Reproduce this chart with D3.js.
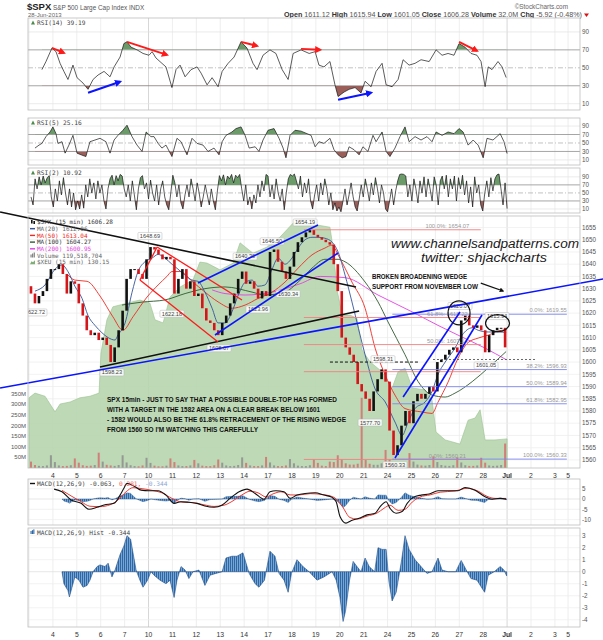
<!DOCTYPE html>
<html>
<head>
<meta charset="utf-8">
<style>
  body { margin: 0; background: #fff; }
  svg text { font-family: "Liberation Sans", Arial, sans-serif; }
  svg .mono { font-family: "DejaVu Sans Mono", "Liberation Mono", monospace; }
</style>
</head>
<body>
<script src="https://d3js.org/d3.v7.min.js"></script>
<svg width="603" height="640"></svg>
<script>
// ---------- data (time = trading days since Jun 3 open) ----------
var dayLabels = ["3","4","5","6","7","10","11","12","13","14","17","18","19","20","21","24","25","26","27","28","Jul","2","3","5"];
var dayPos = [0,1,2,3,4,5,6,7,8,9,10,11,12,13,14,15,16,17,18,19,20,21,22,22.55];

var priceOpen = 1631;
// six closes per session, Jun 3 .. Jun 28
var priceClose = [
  1628,1624,1627,1629,1634,1638,  1638,1640,1636,1628,1633,1632,
  1624,1619,1613,1611,1612,1609,  1610,1607,1600,1606,1613,1621,
  1634,1638,1638,1636,1634,1642,  1647,1646,1644,1642,1643,1642,
  1628,1634,1638,1630,1633,1627,  1628,1622,1617,1616,1613,1611,
  1616,1619,1624,1628,1634,1637,  1632,1633,1630,1626,1629,1627,
  1645,1646,1641,1637,1634,1639,  1645,1649,1651,1653,1654,1652,
  1651,1650,1649,1648,1640,1629,  1610,1606,1603,1600,1591,1588,
  1585,1580,1588,1593,1597,1592,  1572,1562,1566,1574,1580,1575,
  1584,1587,1585,1587,1590,1588,  1600,1601,1603,1605,1606,1604,
  1617,1619,1615,1614,1615,1613,  1604,1611,1613,1614,1614,1606
];
var volume = [
  30,14,10,9,12,60,  28,12,9,10,13,45,  25,13,10,11,14,72,  30,15,12,10,14,60,
  26,13,9,8,12,48,   24,11,8,8,11,45,   28,12,9,9,12,38,    22,11,9,9,13,40,
  25,12,9,10,14,50,  24,12,9,9,12,52,   26,12,9,9,12,42,    22,11,9,9,13,40,
  24,11,9,30,28,60,  40,22,16,16,20,330, 38,20,15,15,22,85,  40,22,15,14,18,70,
  30,16,12,11,14,55, 28,14,11,10,13,50, 26,13,10,10,12,48,  25,12,10,11,14,115
];
var xeu = [[0,130.95],[0.25,131.04],[0.67,130.98],[1.09,130.68],[1.3,130.83],[1.72,130.87],[2.13,130.95],[2.55,130.98],[2.93,131.04],[3.01,131.81],[3.26,132.45],[3.51,132.70],[4.1,132.77],[4.64,132.83],[5.06,132.77],[5.27,132.45],[5.61,132.39],[5.9,132.89],[6.32,133.08],[6.86,133.22],[7.15,133.56],[7.45,133.54],[7.99,133.41],[8.54,133.54],[8.83,133.93],[9.37,133.73],[9.96,133.85],[10.5,134.04],[11.05,134.31],[11.34,134.33],[12.59,134.23],[12.72,133.83],[12.89,133.02],[13.1,132.54],[13.43,132.54],[13.72,132.48],[13.93,131.87],[14.27,131.64],[14.77,131.45],[15.19,131.14],[15.44,131.45],[15.73,131.52],[16.03,131.14],[16.57,131.10],[16.86,130.91],[17.03,130.29],[17.41,130.14],[18.03,130.06],[18.37,130.52],[18.66,130.56],[18.87,130.72],[19.08,130.14],[19.5,130.14],[20,130.16]];

var ma20 = [[0.25,1629],[0.67,1631.5],[1.09,1638],[1.38,1639.7],[1.63,1637],[1.92,1631],[2.22,1626],[2.47,1619],[2.76,1615],[3.05,1612],[3.31,1610],[3.6,1609],[3.72,1611],[4.02,1616],[4.31,1628.5],[4.56,1637],[4.85,1641],[5.15,1642.5],[5.4,1644],[5.69,1642.5],[5.98,1640],[6.23,1638],[6.53,1635.5],[6.82,1633.5],[7.07,1633],[7.36,1628.6],[7.66,1622],[7.91,1616],[8.2,1616],[8.49,1620.5],[8.74,1627],[9.04,1632.6],[9.33,1633.5],[9.58,1631],[9.87,1631.5],[10.17,1638],[10.42,1642.5],[10.71,1640],[11,1642.5],[11.26,1646.6],[11.55,1650],[11.84,1651],[12.09,1651],[12.38,1650.6],[12.68,1649],[12.93,1645],[13.22,1635.6],[13.51,1624.6],[14.06,1603],[14.48,1589],[14.9,1583.7],[15.31,1575.5],[15.61,1570],[15.86,1575.5],[16.15,1581],[16.57,1583.7],[16.86,1588],[17.11,1595],[17.41,1600],[17.82,1605.7],[18.12,1611],[18.54,1614],[18.79,1613],[19.21,1612.3],[19.62,1612.3],[19.96,1612.1]];
var ma50 = [[1.59,1636],[1.92,1633.5],[2.43,1633],[2.97,1627],[3.51,1618.5],[3.93,1613],[4.35,1618.5],[4.94,1626.6],[5.4,1631.5],[5.77,1635],[5.98,1637],[6.32,1637],[6.82,1633],[7.36,1628.6],[7.91,1624.6],[8.49,1622],[9.04,1623.3],[9.58,1626],[10.17,1628.6],[10.71,1632.7],[11.26,1638.4],[11.84,1643.8],[12.38,1646.6],[12.68,1647.8],[12.93,1643.8],[13.22,1638.4],[13.51,1632.7],[14.06,1622],[14.48,1605.7],[14.9,1594.7],[15.31,1586.5],[15.73,1581],[16.44,1579.6],[16.86,1579],[17.11,1583.6],[17.53,1591.8],[17.95,1601.6],[18.37,1608],[18.79,1609.8],[19.21,1611],[19.79,1613],[19.96,1613]];
var ma100 = [[3.89,1623.3],[4.73,1624.5],[5.69,1625.4],[6.53,1628],[7.36,1630],[8.2,1630.7],[9.33,1628.6],[9.87,1627.4],[10.71,1628.6],[11.26,1632.7],[11.84,1638.4],[12.38,1642],[12.93,1642],[13.22,1641],[14.06,1632.7],[14.6,1624.6],[15.02,1616.4],[15.73,1603],[16.28,1592],[16.86,1586.5],[17.41,1585.7],[17.82,1587.3],[18.54,1592],[19.21,1597.6],[19.96,1604.3]];
var ma200 = [[7.66,1629.5],[8.2,1628],[9.04,1627.4],[10.17,1628.6],[11.34,1632],[12.18,1635],[13.22,1634.5],[14.6,1627.4],[16.03,1620.5],[17.11,1615],[17.95,1611],[19.08,1605.7],[19.96,1601]];

var rsi14 = [[0.54,48],[0.71,57],[0.96,72],[1.13,68],[1.3,55],[1.46,46],[1.63,37],[1.84,53],[2.01,39],[2.26,33],[2.47,26],[2.68,37],[2.89,42],[3.14,46],[3.39,40],[3.56,51],[3.81,62],[3.97,77],[4.1,79],[4.27,73],[4.52,70],[4.77,66],[5.02,64],[5.15,68],[5.31,61],[5.56,55],[5.73,51],[5.98,28],[6.15,48],[6.32,53],[6.53,40],[6.78,48],[7.03,51],[7.2,44],[7.45,31],[7.66,39],[7.91,29],[8.08,46],[8.33,55],[8.58,62],[8.87,79],[9.12,72],[9.37,55],[9.54,48],[9.79,64],[10.08,70],[10.33,66],[10.59,48],[10.84,37],[11.05,66],[11.38,70],[11.72,66],[11.97,68],[12.13,53],[12.34,51],[12.59,57],[12.8,31],[12.93,18],[13.18,23],[13.39,26],[13.64,28],[13.89,22],[14.06,35],[14.31,29],[14.52,46],[14.77,55],[14.94,31],[15.19,29],[15.44,37],[15.65,59],[15.9,53],[16.15,55],[16.4,59],[16.74,57],[17.03,70],[17.28,64],[17.53,66],[17.78,64],[17.99,77],[18.24,73],[18.49,66],[18.74,64],[18.91,57],[19.08,29],[19.21,51],[19.37,48],[19.62,57],[19.79,51],[19.96,39.19]];
var rsi5 = [[0.25,38],[0.42,45],[0.54,49],[0.71,65],[0.88,76],[1,88],[1.13,72],[1.21,49],[1.38,53],[1.51,26],[1.67,45],[1.84,68],[2.01,26],[2.18,22],[2.38,18],[2.55,53],[2.76,57],[2.97,61],[3.22,53],[3.39,26],[3.56,57],[3.72,68],[3.93,80],[4.1,92],[4.31,65],[4.52,45],[4.73,30],[4.9,76],[5.1,65],[5.23,65],[5.4,49],[5.56,38],[5.73,45],[5.98,18],[6.19,61],[6.36,53],[6.61,22],[6.82,61],[7.03,49],[7.28,45],[7.49,30],[7.74,38],[7.95,22],[8.08,53],[8.24,68],[8.49,76],[8.66,84],[8.87,88],[9.04,68],[9.21,38],[9.46,41],[9.62,30],[9.79,57],[10,80],[10.25,84],[10.46,61],[10.63,38],[10.75,15],[10.92,68],[11.13,80],[11.38,78],[11.63,72],[11.8,68],[11.97,41],[12.13,53],[12.34,49],[12.59,61],[12.76,34],[12.93,22],[13.1,15],[13.26,18],[13.39,41],[13.6,34],[13.81,22],[13.97,41],[14.18,30],[14.39,68],[14.52,53],[14.77,76],[14.94,30],[15.1,18],[15.31,38],[15.52,65],[15.73,88],[15.9,53],[16.15,65],[16.4,57],[16.65,65],[16.86,53],[17.03,76],[17.28,68],[17.53,76],[17.78,72],[17.99,84],[18.16,76],[18.37,45],[18.58,57],[18.79,45],[19,15],[19.16,61],[19.41,57],[19.71,72],[19.87,53],[20,25.16]];
// RSI(2): evenly spaced readings across the 20 sessions
var rsi2 = [40,20,85,60,90,70,92,75,88,93,40,15,60,30,80,45,88,50,20,60,15,50,8,30,10,45,12,70,40,85,50,75,35,80,50,70,30,10,60,85,94,70,93,80,96,92,60,40,70,30,80,45,8,60,88,93,60,75,35,82,50,30,70,20,60,80,40,20,8,50,94,75,40,70,25,10,45,70,40,85,60,30,75,50,15,40,70,45,20,60,30,8,55,93,80,95,70,92,85,96,75,94,88,96,60,30,70,20,40,10,45,25,70,40,80,55,96,92,40,70,35,85,50,30,60,8,50,85,96,92,97,80,60,92,40,75,50,85,30,10,45,70,30,75,45,85,60,20,50,8,25,5,15,3,30,60,20,45,75,40,15,5,35,70,40,85,60,30,75,45,88,60,25,70,50,10,3,30,60,20,55,80,96,97,96,92,40,70,30,85,60,25,80,50,90,40,85,60,30,90,70,20,80,92,60,94,40,85,60,92,30,88,60,94,45,80,25,65,15,90,50,70,20,5,50,80,40,88,55,85,95,97,60,20,75,10.92];

var macd = [[1.05,4.8],[1.38,3.5],[1.76,-0.5],[2.18,-2.1],[2.51,-5],[2.85,-4],[3.14,-2.9],[3.56,-2.1],[3.81,1.9],[3.97,5.2],[4.1,7.6],[4.44,5.9],[4.69,4.3],[5.02,4],[5.4,4],[5.73,1.9],[6.07,-2.1],[6.36,-1.3],[6.69,-1.6],[7.03,-2.1],[7.36,-3.4],[7.74,-4],[8.08,-2.9],[8.41,0.3],[8.79,3.5],[9.12,4.8],[9.46,2.7],[9.83,-0.1],[10.08,3.5],[10.33,4],[10.67,3.5],[10.92,0.3],[11.21,1.9],[11.55,2.7],[11.97,3],[12.34,1.9],[12.68,0.8],[12.85,-1.3],[13.01,-8.5],[13.26,-11.7],[13.47,-10.5],[13.81,-9.3],[14.14,-7.7],[14.48,-6.9],[14.69,-3.7],[14.94,-1.3],[15.1,-4.5],[15.36,-6.9],[15.61,-6.1],[15.82,-2.1],[16.07,0.8],[16.4,1.9],[16.74,2.4],[17.11,4],[17.53,4],[17.95,4],[18.24,5.6],[18.66,4.3],[19.08,1.1],[19.37,-0.1],[19.71,0.3],[19.96,-0.063]];
var signal = [[1.38,4.2],[1.76,1.5],[2.18,-1.3],[2.55,-3.5],[2.97,-3.7],[3.39,-2.8],[3.72,-0.5],[4.06,3.5],[4.35,5.5],[4.73,5],[5.15,4.2],[5.56,3],[5.98,0.3],[6.4,-1.5],[6.82,-1.7],[7.32,-2.8],[7.74,-3.6],[8.16,-3],[8.49,-1.2],[8.91,2],[9.25,3.8],[9.58,3],[9.92,1],[10.21,2.5],[10.54,3.5],[10.92,2],[11.26,1.9],[11.76,2.6],[12.26,2.2],[12.76,0.8],[13.1,-3.5],[13.43,-9],[13.72,-9.7],[14.14,-8.3],[14.56,-6.8],[14.85,-4.5],[15.1,-3],[15.44,-5.5],[15.73,-5],[16.03,-1.5],[16.36,1],[16.78,2],[17.2,3.3],[17.82,3.9],[18.33,5.2],[18.79,3.8],[19.16,1.3],[19.5,0.3],[19.96,0.281]];
var hist = [[1.38,0],[1.46,-1],[1.63,-1.57],[1.69,-2.1],[1.82,-1.14],[1.92,-0.43],[2.09,-0.7],[2.26,-1.29],[2.43,-1.14],[2.55,-0.7],[2.68,0],[2.85,0.43],[2.97,0.57],[3.18,0.43],[3.31,0.71],[3.47,-0.43],[3.6,0.14],[3.81,1.43],[3.97,2.14],[4.1,3],[4.25,2.71],[4.35,1.57],[4.48,0.14],[4.64,-0.7],[4.77,-1.29],[4.96,-0.7],[5.1,0],[5.23,-0.29],[5.48,-0.7],[5.73,-1],[5.9,-0.7],[6.07,-2.14],[6.19,-0.7],[6.36,0.43],[6.53,0.14],[6.69,-0.57],[6.86,0],[7.11,0.14],[7.36,-1.14],[7.57,-0.29],[7.82,-0.14],[8.08,0],[8.24,1.14],[8.49,1.29],[8.7,1.29],[8.95,1.57],[9.21,-0.14],[9.46,-1],[9.62,-1.29],[9.85,-0.7],[10.08,1.71],[10.29,1.29],[10.46,-0.14],[10.67,-0.7],[10.84,-1.71],[10.98,-0.14],[11.21,1],[11.46,0.43],[11.72,0],[12.05,-0.7],[12.34,-0.43],[12.68,0],[12.85,-0.7],[13.01,-2.14],[13.14,-4.14],[13.24,-3.29],[13.41,-0.7],[13.56,0.86],[13.72,0.43],[13.89,0],[14.06,1.14],[14.23,0.43],[14.46,0],[14.6,2],[14.77,1.86],[14.94,1.86],[15.06,-0.86],[15.19,-2.43],[15.36,-1.71],[15.59,1],[15.73,3],[15.9,1.86],[16.15,1],[16.4,0.43],[16.65,-0.14],[16.86,0],[17.11,1.14],[17.28,0.14],[17.53,0],[17.85,0],[18.08,0.94],[18.33,0],[18.49,-0.57],[18.74,-0.7],[19.06,-1.71],[19.21,-0.29],[19.46,0],[19.71,0.43],[19.87,0.14],[19.98,-0.344]];

// price annotations: [time, price, text, above(-1)/below(1)]
var priceTags = [[0.25,1622.72,"1622.72",1],[5.06,1648.69,"1648.69",-1],[5.98,1622.18,"1622.18",1],[3.47,1598.23,"1598.23",1],[7.95,1608.07,"1608.07",1],[9.04,1640.30,"1640.30",-1],[9.58,1623.96,"1623.96",1],[10.17,1646.50,"1646.50",-1],[10.84,1630.34,"1630.34",1],[11.55,1654.19,"1654.19",-1],[14.81,1598.31,"1598.31",-1],[14.27,1577.70,"1577.70",1],[15.31,1560.33,"1560.33",1],[18.03,1620.07,"1620.07",-1],[19.12,1601.05,"1601.05",1],[19.58,1615.94,"1615.94",-1]];
var fibRed = [[1654.07,"100.0%: 1654.07"],[1618.22,"61.8%: 1618.22"],[1607.14,"50.0%: 1607.14"],[1596.06,""],[1560.21,"0.0%: 1560.21"]];
var fibBlue = [[1619.55,"0.0%: 1619.55"],[1596.93,"38.2%: 1596.93"],[1589.94,"50.0%: 1589.94"],[1582.95,"61.8%: 1582.95"],[1560.33,"100.0%: 1560.33"]];
// hand-drawn trend lines: [t1, p1, t2, p2, colour]
var trendLines = [
  [-1.21,1661.33,13.68,1630.68,"#111"], [2.97,1598.0,13.81,1620.88,"#111"],
  [-1.21,1589.41,24.02,1633.95,"#0a14ff"],
  [5.36,1647.03,8.91,1625.37,"#ff1a1a"], [4.64,1633.55,7.91,1608.21,"#ff1a1a"], [4.64,1633.55,5.36,1647.03,"#ff1a1a"],
  [7.07,1632.32,12.09,1656.02,"#0a14ff"], [7.78,1611.07,12.93,1644.58,"#0a14ff"],
  [15.65,1585.73,18.03,1620.47,"#0a14ff"], [15.31,1560.8,18.95,1619.24,"#0a14ff"]
];
// RSI(14) arrows: [t1, v1, t2, v2, colour]
var rsiArrows = [[0.96,72.2,1.46,66.7,"#ff1a1a"],[2.47,22.2,3.81,34.4,"#0a14ff"],[4.1,78.9,5.77,64.4,"#ff1a1a"],[8.87,78.9,9.54,74.4,"#ff1a1a"],[11.38,71.1,12.18,70,"#ff1a1a"],[12.93,14.4,14.31,22.2,"#0a14ff"],[17.99,78.9,18.74,68.9,"#ff1a1a"]];

var noteLines = ["SPX 15min - JUST TO SAY THAT A POSSIBLE DOUBLE-TOP HAS FORMED",
  "WITH A TARGET IN THE 1582 AREA ON A CLEAR BREAK BELOW 1601",
  "- 1582 WOULD ALSO BE THE 61.8% RETRACEMENT OF THE RISING WEDGE",
  "FROM 1560 SO I'M WATCHING THIS CAREFULLY"];
var noteWidths = [230, 213, 239, 151];

// ---------- layout ----------
var svg = d3.select("svg");
var defs = svg.append("defs");
var X0 = 28, X1 = 580;
var x = d3.scaleLinear().domain([0, 23.05]).range([29, 580]);

function clip(id, top, bottom) {
  defs.append("clipPath").attr("id", id).append("rect")
    .attr("x", X0).attr("y", top).attr("width", X1 - X0).attr("height", bottom - top);
}
function frame(top, bottom) {
  svg.append("rect").attr("x", X0).attr("y", top).attr("width", X1 - X0).attr("height", bottom - top)
    .attr("fill", "#fff");
  dayPos.forEach(function(d, i) {
    svg.append("line").attr("x1", x(d)).attr("x2", x(d)).attr("y1", top).attr("y2", bottom)
      .attr("stroke", (i == 5 || i == 20) ? "#c6c6c6" : "#e6e6e6").attr("stroke-width", 0.7);
  });
}
function border(top, bottom) {
  svg.append("rect").attr("x", X0).attr("y", top).attr("width", X1 - X0).attr("height", bottom - top)
    .attr("fill", "none").attr("stroke", "#bdbdbd").attr("stroke-width", 0.8);
}
function hline(y, color, dash, w) {
  svg.append("line").attr("x1", X0).attr("x2", X1).attr("y1", y).attr("y2", y)
    .attr("stroke", color).attr("stroke-width", w || 0.7).attr("stroke-dasharray", dash || null);
}
function rightLabel(y, txt) {
  svg.append("text").attr("x", 582).attr("y", y).attr("dy", "0.35em")
    .attr("font-size", 6.3).attr("fill", "#555").text(txt);
}
function panelLabel(y, txt) {
  return svg.append("text").attr("class", "mono").attr("x", 37).attr("y", y)
    .attr("font-size", 6.2).attr("fill", "#444").text(txt);
}
function marker(id, color) {
  defs.append("marker").attr("id", id).attr("viewBox", "0 0 10 10").attr("refX", 7).attr("refY", 5)
    .attr("markerWidth", 3.6).attr("markerHeight", 3.6).attr("orient", "auto")
    .append("path").attr("d", "M0,0L10,5L0,10z").attr("fill", color);
}
marker("arr-red", "#ff1a1a"); marker("arr-blue", "#0a14ff"); marker("arr-black", "#111");

var stripes = defs.append("pattern").attr("id", "stripes").attr("patternUnits", "userSpaceOnUse")
  .attr("width", 2).attr("height", 4);
stripes.append("rect").attr("width", 2).attr("height", 4).attr("fill", "#8fb5dc");
stripes.append("rect").attr("width", 1.2).attr("height", 4).attr("fill", "#2c68a8");

// ---------- header ----------
svg.append("text").attr("x", 27).attr("y", 10).attr("font-size", 9.5).attr("font-weight", "bold").attr("fill", "#222").text("$SPX");
svg.append("text").attr("x", 53).attr("y", 9.5).attr("font-size", 6.4).attr("fill", "#555").text("S&P 500 Large Cap Index INDX");
svg.append("text").attr("x", 28).attr("y", 17).attr("font-size", 6).attr("fill", "#666").text("28-Jun-2013");
svg.append("text").attr("x", 568).attr("y", 8.5).attr("text-anchor", "end").attr("font-size", 6.4).attr("fill", "#666").text("\u00a9StockCharts.com");
var quote = svg.append("text").attr("x", 284).attr("y", 16.5).attr("font-size", 6.4).attr("fill", "#333")
  .attr("textLength", 298).attr("lengthAdjust", "spacingAndGlyphs");
[["Open", " 1611.12  "], ["High", " 1615.94  "], ["Low", " 1601.05  "], ["Close", " 1606.28  "], ["Volume", " 32.0M  "], ["Chg", " -5.92 (-0.48%)"]].forEach(function(p) {
  quote.append("tspan").attr("font-weight", "bold").text(p[0]);
  quote.append("tspan").attr("fill", "#555").text(p[1]);
});
svg.append("path").attr("d", "M584,13.5 L589,13.5 L586.5,17z").attr("fill", "#d11");

// ---------- RSI panels ----------
function rsiPanel(id, top, bottom, dom, pts, label) {
  var y = d3.scaleLinear().domain(dom).range([bottom, top]);
  frame(top, bottom);
  hline(y(90), "#e2e2e2"); hline(y(10), "#e2e2e2");
  hline(y(70), "#8f8f8f", null, 0.8); hline(y(30), "#8f8f8f", null, 0.8);
  hline(y(50), "#a8a8a8", "5,2,1,2");
  clip(id + "-c", top, bottom); clip(id + "-hi", top, y(70)); clip(id + "-lo", y(30), bottom);
  var g = svg.append("g").attr("clip-path", "url(#" + id + "-c)");
  g.append("path").datum(pts).attr("clip-path", "url(#" + id + "-hi)")
    .attr("d", d3.area().x(function(d) { return x(d[0]); }).y0(y(70)).y1(function(d) { return y(d[1]); }))
    .attr("fill", "#6b9b69");
  g.append("path").datum(pts).attr("clip-path", "url(#" + id + "-lo)")
    .attr("d", d3.area().x(function(d) { return x(d[0]); }).y0(y(30)).y1(function(d) { return y(d[1]); }))
    .attr("fill", "#9b5e59");
  g.append("path").datum(pts)
    .attr("d", d3.line().x(function(d) { return x(d[0]); }).y(function(d) { return y(d[1]); }))
    .attr("fill", "none").attr("stroke", "#151515").attr("stroke-width", 0.7);
  [90, 70, 50, 30, 10].forEach(function(v) { rightLabel(y(v), v); });
  border(top, bottom);
  svg.append("path").attr("d", "M31," + (top + 6.5) + " L33," + (top + 2.5) + " L35," + (top + 6.5) + "z").attr("fill", "#4d8a4d");
  panelLabel(top + 6.8, label);
  return y;
}
var yR14 = rsiPanel("r14", 18, 110, [3, 105.5], rsi14, "RSI(14) 39.19");
rsiPanel("r5", 118, 165, [-2, 109], rsi5, "RSI(5) 25.16");
var rsi2Step = 20 / rsi2.length;
rsiPanel("r2", 168, 213, [0, 112], rsi2.map(function(v, i) { return [(i + 1) * rsi2Step, v]; }), "RSI(2) 10.92");

rsiArrows.forEach(function(a) {
  svg.append("line").attr("x1", x(a[0])).attr("y1", yR14(a[1])).attr("x2", x(a[2])).attr("y2", yR14(a[3]))
    .attr("stroke", a[4]).attr("stroke-width", 2)
    .attr("marker-end", a[4] == "#0a14ff" ? "url(#arr-blue)" : "url(#arr-red)");
});

// ---------- main panel ----------
var MT = 216, MB = 468;
var yP = d3.scaleLinear().domain([1556.7, 1659.7]).range([MB, MT]);
var yV = d3.scaleLinear().domain([0, 1185]).range([MB, MT]);
var yX = d3.scaleLinear().domain([129.6, 134.446]).range([MB, MT]);
frame(MT, MB);
clip("main-c", MT, MB);
d3.range(1560, 1656, 5).forEach(function(p) { hline(yP(p), "#ececec"); rightLabel(yP(p), p); });
[50, 100, 150, 200, 250, 300, 350].forEach(function(v) {
  svg.append("text").attr("x", 26).attr("y", yV(v)).attr("dy", "0.35em").attr("text-anchor", "end")
    .attr("font-size", 6).attr("fill", "#555").text(v + "M");
});
var gm = svg.append("g").attr("clip-path", "url(#main-c)");
gm.append("path").datum(xeu)
  .attr("d", d3.area().x(function(d) { return x(d[0]); }).y0(MB).y1(function(d) { return yX(d[1]); }))
  .attr("fill", "#b7d5ae").attr("fill-opacity", 0.9).attr("stroke", "#98c18f").attr("stroke-width", 0.6);

var bars = priceClose.map(function(c, i) {
  return { t: Math.floor(i / 6) + (i % 6 + 0.5) / 6, o: i ? priceClose[i - 1] : priceOpen, c: c, v: volume[i] };
});
gm.selectAll(".vol").data(bars).enter().append("rect")
  .attr("x", function(d) { return x(d.t) - 1; }).attr("width", 2)
  .attr("y", function(d) { return yV(d.v); }).attr("height", function(d) { return MB - yV(d.v); })
  .attr("fill", function(d) { return d.c >= d.o ? "#8d8d8d" : "#d27070"; }).attr("opacity", 0.85);

function maLine(data, color) {
  gm.append("path").datum(data)
    .attr("d", d3.line().curve(d3.curveMonotoneX).x(function(d) { return x(d[0]); }).y(function(d) { return yP(d[1]); }))
    .attr("fill", "none").attr("stroke", color).attr("stroke-width", 0.9);
}
maLine(ma200, "#e33ee3"); maLine(ma100, "#2f5a2f"); maLine(ma50, "#ee2a22"); maLine(ma20, "#35559a");

gm.selectAll(".bar").data(bars).enter().append("rect")
  .attr("x", function(d) { return x(d.t) - 1.3; }).attr("width", 2.6)
  .attr("y", function(d) { return yP(Math.max(d.o, d.c)); })
  .attr("height", function(d) { return Math.max(1, Math.abs(yP(d.o) - yP(d.c))); })
  .attr("fill", function(d) { return d.c >= d.o ? "#111" : "#d4151a"; });

// fibonacci levels
fibRed.forEach(function(f) {
  gm.append("line").attr("x1", x(11.5)).attr("x2", x(18.9)).attr("y1", yP(f[0])).attr("y2", yP(f[0]))
    .attr("stroke", "#f08080").attr("stroke-width", 0.9);
  if (f[1]) gm.append("text").attr("x", x(17.5)).attr("y", yP(f[0]) - 1.8).attr("text-anchor", "middle")
    .attr("font-size", 5.8).attr("fill", "#999").text(f[1]);
});
fibBlue.forEach(function(f) {
  gm.append("line").attr("x1", x(15.2)).attr("x2", x(22.5)).attr("y1", yP(f[0])).attr("y2", yP(f[0]))
    .attr("stroke", "#7c86ee").attr("stroke-width", 0.9);
  gm.append("text").attr("x", x(22.5)).attr("y", yP(f[0]) - 1.8).attr("text-anchor", "end")
    .attr("font-size", 5.8).attr("fill", "#999").text(f[1]);
});
gm.append("line").attr("x1", x(12.59)).attr("x2", x(16.28)).attr("y1", yP(1600)).attr("y2", yP(1600))
  .attr("stroke", "#111").attr("stroke-width", 1).attr("stroke-dasharray", "3,2");
gm.append("line").attr("x1", x(16.9)).attr("x2", x(21.2)).attr("y1", yP(1601.05)).attr("y2", yP(1601.05))
  .attr("stroke", "#555").attr("stroke-width", 0.9).attr("stroke-dasharray", "2,2");

// price tags
priceTags.forEach(function(p) {
  var cx = x(p[0]), cy = yP(p[1]) + (p[3] > 0 ? 6 : -7);
  gm.append("rect").attr("x", cx - 12).attr("y", cy - 3.5).attr("width", 24).attr("height", 7).attr("rx", 1)
    .attr("fill", "#fff").attr("fill-opacity", 0.85).attr("stroke", "#b5b5b5").attr("stroke-width", 0.5);
  gm.append("text").attr("x", cx).attr("y", cy).attr("dy", "0.35em").attr("text-anchor", "middle")
    .attr("font-size", 5.6).attr("fill", "#444").text(p[2]);
});

// hand-drawn lines (not clipped, they run past the panel)
trendLines.forEach(function(l) {
  svg.append("line").attr("x1", x(l[0])).attr("y1", yP(l[1])).attr("x2", x(l[2])).attr("y2", yP(l[3]))
    .attr("stroke", l[4]).attr("stroke-width", l[4] == "#ff1a1a" ? 1.3 : 1.6);
});
[[17.99, 1620.1, 11, 12], [19.6, 1615.9, 12, 8.5]].forEach(function(e) {
  svg.append("ellipse").attr("cx", x(e[0])).attr("cy", yP(e[1])).attr("rx", e[2]).attr("ry", e[3])
    .attr("fill", "none").attr("stroke", "#111").attr("stroke-width", 1.2);
});

// notes
svg.append("text").attr("x", 391).attr("y", 248).attr("font-family", "DejaVu Serif").attr("font-style", "italic")
  .attr("font-size", 12).attr("fill", "#1a1a1a").attr("textLength", 188).attr("lengthAdjust", "spacingAndGlyphs")
  .text("www.channelsandpatterns.com");
svg.append("text").attr("x", 421).attr("y", 261.5).attr("font-family", "DejaVu Serif").attr("font-style", "italic")
  .attr("font-size", 12).attr("fill", "#1a1a1a").attr("textLength", 126).attr("lengthAdjust", "spacingAndGlyphs")
  .text("twitter: shjackcharts");
svg.append("text").attr("x", 372).attr("y", 278.5).attr("font-size", 6.4).attr("font-weight", "bold").attr("fill", "#111")
  .attr("textLength", 95).attr("lengthAdjust", "spacingAndGlyphs").text("BROKEN BROADENING WEDGE");
svg.append("text").attr("x", 372).attr("y", 288.5).attr("font-size", 6.4).attr("font-weight", "bold").attr("fill", "#111")
  .attr("textLength", 106).attr("lengthAdjust", "spacingAndGlyphs").text("SUPPORT FROM NOVEMBER LOW");
svg.append("line").attr("x1", x(18.9)).attr("y1", yP(1632.3)).attr("x2", x(19.83)).attr("y2", yP(1629.05))
  .attr("stroke", "#111").attr("stroke-width", 1.3).attr("marker-end", "url(#arr-black)");
noteLines.forEach(function(s, i) {
  svg.append("text").attr("x", 107).attr("y", 402.3 + i * 9.8).attr("font-size", 6.4).attr("font-weight", "bold")
    .attr("fill", "#111").attr("textLength", noteWidths[i]).attr("lengthAdjust", "spacingAndGlyphs").text(s);
});

// legend
var legend = [
  ["$SPX (15 min) 1606.28", "#333", "candle", "#111"],
  ["MA(20) 1612.06", "#666", "line", "#35559a"],
  ["MA(50) 1613.04", "#ee2a22", "line", "#ee2a22"],
  ["MA(100) 1604.27", "#333", "line", "#2f5a2f"],
  ["MA(200) 1600.95", "#e33ee3", "line", "#e33ee3"],
  ["Volume 119,518,704", "#666", "bars", "#777"],
  ["$XEU (15 min) 130.15", "#666", "area", "#7fae76"]
];
legend.forEach(function(l, i) {
  var cy = 222 + i * 6.7;
  if (l[2] == "line") svg.append("line").attr("x1", 30).attr("x2", 35).attr("y1", cy).attr("y2", cy).attr("stroke", l[3]).attr("stroke-width", 1.4);
  else if (l[2] == "candle") { svg.append("rect").attr("x", 31).attr("y", cy - 2).attr("width", 1.6).attr("height", 3.5).attr("fill", l[3]); svg.append("rect").attr("x", 33.4).attr("y", cy - 1).attr("width", 1.6).attr("height", 3).attr("fill", l[3]); }
  else if (l[2] == "bars") [0, 1.6, 3.2].forEach(function(o, k) { svg.append("rect").attr("x", 30.5 + o).attr("y", cy - 1 - k).attr("width", 1.1).attr("height", 3 + k).attr("fill", l[3]); });
  else svg.append("path").attr("d", "M30," + (cy + 2) + " L31.5," + (cy - 1) + " L33," + (cy) + " L35," + (cy - 2) + " L35," + (cy + 2) + "z").attr("fill", l[3]);
  svg.append("text").attr("class", "mono").attr("x", 37).attr("y", cy).attr("dy", "0.35em")
    .attr("font-size", 6).attr("fill", l[1]).text(l[0]);
});
border(MT, MB);

// ---------- MACD panels ----------
var CT = 479, CB = 525, HT = 528, HB = 627;
var yC = d3.scaleLinear().domain([-12.6, 9.7]).range([CB, CT]);
var yH = d3.scaleLinear().domain([-4.6, 3.64]).range([HB, HT]);
frame(CT, CB);
[5, 0, -5, -10].forEach(function(v) { hline(yC(v), v == 0 ? "#dcdcdc" : "#ececec"); rightLabel(yC(v), v); });
clip("macd-c", CT, CB);
var gc = svg.append("g").attr("clip-path", "url(#macd-c)");
gc.append("path").datum(hist)
  .attr("d", d3.area().x(function(d) { return x(d[0]); }).y0(yC(0)).y1(function(d) { return yC(d[1]); }))
  .attr("fill", "url(#stripes)").attr("stroke", "#24558f").attr("stroke-width", 0.4);
gc.append("path").datum(signal)
  .attr("d", d3.line().curve(d3.curveMonotoneX).x(function(d) { return x(d[0]); }).y(function(d) { return yC(d[1]); }))
  .attr("fill", "none").attr("stroke", "#f03a32").attr("stroke-width", 1);
gc.append("path").datum(macd)
  .attr("d", d3.line().curve(d3.curveMonotoneX).x(function(d) { return x(d[0]); }).y(function(d) { return yC(d[1]); }))
  .attr("fill", "none").attr("stroke", "#111").attr("stroke-width", 1.1);
border(CT, CB);
svg.append("line").attr("x1", 30).attr("x2", 35).attr("y1", CT + 4.5).attr("y2", CT + 4.5).attr("stroke", "#111").attr("stroke-width", 1.4);
var ml = panelLabel(CT + 6.8, "MACD(12,26,9) -0.063,");
ml.append("tspan").attr("fill", "#f06060").text(" 0.281,");
ml.append("tspan").attr("fill", "#8ea7d4").text(" -0.344");

frame(HT, HB);
d3.range(-4, 4).forEach(function(v) { hline(yH(v), v == 0 ? "#dcdcdc" : "#ececec"); rightLabel(yH(v), v); });
clip("hist-c", HT, HB);
svg.append("g").attr("clip-path", "url(#hist-c)").append("path").datum(hist)
  .attr("d", d3.area().x(function(d) { return x(d[0]); }).y0(yH(0)).y1(function(d) { return yH(d[1]); }))
  .attr("fill", "url(#stripes)").attr("stroke", "#1f4f8a").attr("stroke-width", 0.6);
border(HT, HB);
[0, 1.4, 2.8].forEach(function(o, k) { svg.append("rect").attr("x", 30.5 + o).attr("y", HT + 3 - k * 0.8).attr("width", 1.1).attr("height", 3 + k * 0.8).attr("fill", "#2c68a8"); });
panelLabel(HT + 6.8, "MACD(12,26,9) Hist -0.344");

// ---------- date axes ----------
[477.5, 637].forEach(function(yy) {
  dayLabels.forEach(function(lab, i) {
    if (i == 0) return;
    svg.append("text").attr("x", x(dayPos[i])).attr("y", yy).attr("text-anchor", "middle")
      .attr("font-size", 6.8).attr("fill", "#333").attr("font-weight", lab == "Jul" ? "bold" : null).text(lab);
  });
});
</script>
</body>
</html>
